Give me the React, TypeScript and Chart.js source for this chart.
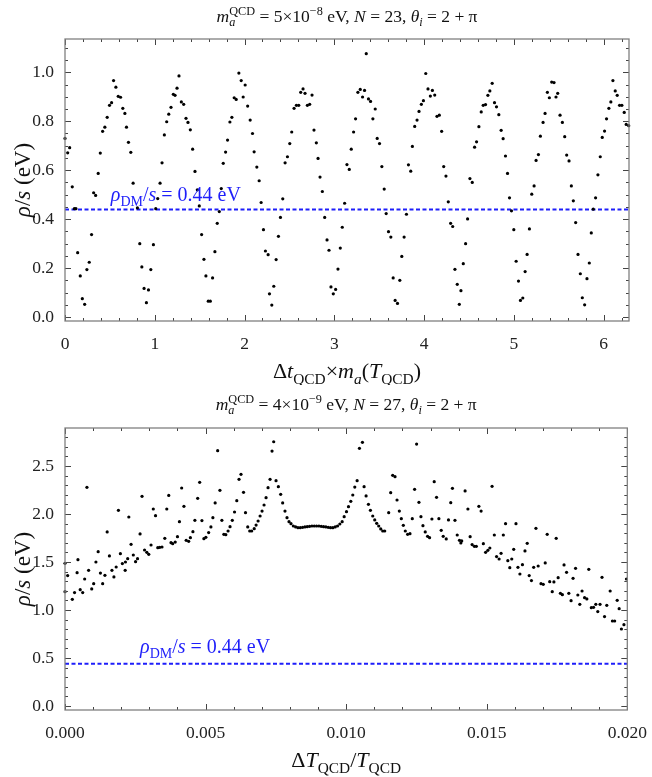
import React, { useEffect, useRef } from 'react';
import { Chart, registerables } from 'chart.js';
Chart.register(...registerables);

const FAM = '"Liberation Serif", "Times New Roman", "DejaVu Serif", serif';

// ---------- data: top panel (x = Δt·m_a, y = ρ/s in eV) ----------
const topPointsA: number[][] = [
  [0,0.730],[0.030,0.671],[0.052,0.692],[0.081,0.532],[0.104,0.443],[0.122,0.443],[0.141,0.263],[0.170,0.168],[0.193,0.075],[0.219,0.052],
  [0.244,0.194],[0.270,0.224],[0.296,0.337],[0.319,0.508],[0.341,0.497],[0.370,0.587],[0.393,0.670],[0.419,0.759],[0.444,0.776],[0.470,0.816],
  [0.496,0.865],[0.519,0.876],[0.541,0.966],[0.567,0.939],[0.593,0.902],[0.619,0.898],[0.644,0.853],[0.667,0.832],[0.685,0.776],[0.707,0.714],
  [0.733,0.673],[0.759,0.547],[0.807,0.446],[0.833,0.300],[0.856,0.205],[0.881,0.117],[0.907,0.059],[0.930,0.111],[0.956,0.194],[0.985,0.296],
  [1.011,0.443],[1.033,0.484],[1.059,0.547],[1.081,0.630],[1.107,0.744],[1.133,0.798],[1.156,0.829],[1.181,0.857],[1.207,0.910],[1.226,0.906],
  [1.248,0.935],[1.270,0.985],[1.296,0.879],[1.322,0.869],[1.348,0.812],[1.370,0.795],[1.396,0.765],[1.422,0.686],[1.448,0.595],[1.474,0.520],
  [1.496,0.454],[1.522,0.337],[1.548,0.236],[1.570,0.168],[1.596,0.065],[1.619,0.065],[1.644,0.160],[1.670,0.267],[1.696,0.383],[1.719,0.431],
  [1.741,0.525],[1.763,0.628],[1.789,0.674],[1.811,0.723],[1.837,0.797],[1.859,0.816],[1.885,0.896],[1.907,0.889],[1.937,0.997],[1.963,0.966],
  [1.985,0.899],[2.007,0.948],[2.035,0.862],[2.063,0.805],[2.089,0.750],[2.107,0.675],
];
const topPointsB: number[][] = [
  [2.137,0.613],[2.163,0.557],[2.185,0.468],[2.211,0.357],[2.233,0.270],[2.263,0.255],[2.278,0.095],[2.304,0.049],[2.326,0.126],[2.352,0.235],
  [2.378,0.330],[2.400,0.407],[2.426,0.483],[2.452,0.630],[2.478,0.655],[2.504,0.709],[2.526,0.756],[2.552,0.853],[2.578,0.865],[2.604,0.865],
  [2.626,0.918],[2.652,0.932],[2.674,0.914],[2.700,0.865],[2.726,0.869],[2.752,0.907],[2.774,0.764],[2.800,0.712],[2.819,0.648],[2.841,0.572],
  [2.867,0.513],[2.893,0.407],[2.919,0.315],[2.941,0.273],[2.963,0.123],[2.989,0.095],[3.015,0.113],[3.041,0.196],[3.067,0.282],[3.089,0.367],
  [3.115,0.465],[3.141,0.623],[3.167,0.603],[3.189,0.686],[3.215,0.756],[3.237,0.810],[3.263,0.918],[3.289,0.930],[3.315,0.899],[3.337,0.926],
  [3.356,1.076],[3.381,0.891],[3.404,0.881],[3.430,0.810],[3.456,0.850],[3.478,0.730],[3.504,0.709],[3.530,0.615],[3.556,0.523],[3.578,0.423],
  [3.604,0.349],[3.630,0.327],[3.656,0.160],[3.678,0.068],[3.704,0.056],[3.730,0.150],[3.752,0.248],[3.778,0.327],[3.804,0.420],[3.826,0.622],
  [3.852,0.596],[3.870,0.697],[3.896,0.779],[3.922,0.805],[3.944,0.840],[3.970,0.869],[3.993,0.884],[4.019,0.995],[4.044,0.932],[4.070,0.903],
  [4.093,0.926],[4.119,0.907],[4.144,0.820],[4.170,0.825],[4.196,0.759],[4.219,0.615],
];
const topPointsC: number[][] = [
  [4.244,0.576],[4.270,0.471],[4.296,0.383],[4.319,0.370],[4.344,0.195],[4.370,0.134],[4.393,0.052],[4.411,0.108],[4.437,0.218],[4.463,0.300],
  [4.485,0.401],[4.511,0.566],[4.537,0.550],[4.563,0.694],[4.585,0.716],[4.611,0.778],[4.637,0.838],[4.659,0.865],[4.685,0.868],[4.711,0.906],
  [4.733,0.924],[4.759,0.955],[4.785,0.876],[4.807,0.859],[4.833,0.827],[4.859,0.763],[4.881,0.729],[4.907,0.658],[4.930,0.587],[4.952,0.487],
  [4.974,0.434],[5.000,0.357],[5.026,0.228],[5.052,0.147],[5.074,0.068],[5.100,0.078],[5.126,0.186],[5.148,0.256],[5.174,0.360],[5.200,0.502],
  [5.226,0.536],[5.248,0.640],[5.274,0.664],[5.296,0.739],[5.326,0.795],[5.348,0.832],[5.374,0.918],[5.396,0.896],[5.422,0.960],[5.448,0.958],
  [5.470,0.899],[5.489,0.914],[5.515,0.825],[5.541,0.795],[5.567,0.737],[5.589,0.662],[5.615,0.638],[5.641,0.536],[5.663,0.475],[5.689,0.386],
  [5.715,0.256],[5.741,0.177],[5.763,0.079],[5.789,0.050],[5.815,0.157],[5.841,0.221],[5.863,0.344],[5.885,0.441],[5.911,0.487],[5.937,0.581],
  [5.963,0.655],[5.985,0.734],[6.011,0.760],[6.033,0.810],[6.059,0.853],[6.081,0.879],[6.104,0.966],[6.130,0.924],[6.152,0.906],[6.178,0.865],
  [6.204,0.865],[6.230,0.836],[6.252,0.787],[6.280,0.782],
];

// ---------- data: bottom panel (x = ΔT/T, y = ρ/s in eV) ----------
const bottomPointsA: number[][] = [
  [0,1.486],[0,1.191],[0.000095,1.358],[0.00026,1.111],[0.00034,1.181],[0.00043,1.389],[0.00046,1.524],[0.00054,1.212],[0.00063,1.181],[0.00070,1.323],
  [0.00078,2.278],[0.00084,1.413],[0.00095,1.219],[0.00102,1.274],[0.00110,1.500],[0.00118,1.608],[0.00126,1.385],[0.00134,1.274],[0.00142,1.361],[0.00150,1.813],
  [0.00158,1.563],[0.00167,1.413],[0.00174,1.344],[0.00182,1.448],[0.00190,2.038],[0.00197,1.587],[0.00204,1.483],[0.00214,1.413],[0.00215,1.500],[0.00223,1.535],
  [0.00227,1.969],[0.00235,1.684],[0.00243,1.573],[0.00251,1.503],[0.00258,1.535],[0.00267,1.792],[0.00274,2.184],[0.00283,1.625],[0.00291,1.601],[0.00298,1.580],
  [0.00306,1.677],[0.00314,2.052],[0.00322,1.983],[0.00330,1.649],[0.00337,1.653],[0.00345,1.656],[0.00355,1.747],[0.00362,2.052],[0.00369,2.194],[0.00377,1.701],
  [0.00383,1.691],[0.00392,1.708],[0.00400,1.764],[0.00407,1.920],[0.00415,2.271],[0.00423,2.080],[0.00431,1.726],[0.00440,1.715],[0.00446,1.753],[0.00455,1.816],
  [0.00462,1.934],[0.00472,2.163],[0.00479,2.330],[0.00487,1.931],[0.00494,1.743],[0.00501,1.757],[0.00511,1.806],[0.00519,1.865],[0.00526,1.962],[0.00534,2.115],
  [0.00543,2.660],[0.00551,2.247],[0.00558,1.934],[0.00565,1.788],[0.00572,1.785],[0.00580,1.823],[0.00587,1.868],[0.00595,1.934],[0.00603,2.021],[0.00611,2.139],
  [0.00619,2.361],[0.00626,2.413],[0.00635,2.226],[0.00642,2.014],[0.00650,1.865],[0.00657,1.823],[0.00664,1.823],[0.00673,1.847],
];
const bottomPointsB: number[][] = [
  [0.006797,1.885],[0.006868,1.927],[0.006939,1.979],[0.007009,2.031],[0.007080,2.094],[0.007151,2.170],[0.007222,2.274],[0.007293,2.361],[0.007364,2.656],[0.007423,2.753],
  [0.007506,2.347],[0.007589,2.285],[0.007671,2.205],[0.007742,2.115],[0.007825,2.031],[0.007896,1.962],[0.007967,1.920],[0.008038,1.899],[0.008121,1.875],[0.008203,1.865],
  [0.008286,1.858],[0.008369,1.858],[0.008452,1.861],[0.008534,1.865],[0.008617,1.868],[0.008700,1.872],[0.008783,1.875],[0.008865,1.875],[0.008948,1.875],[0.009031,1.875],
  [0.009113,1.872],[0.009196,1.868],[0.009279,1.865],[0.009362,1.861],[0.009444,1.858],[0.009527,1.858],[0.009610,1.865],[0.009693,1.875],[0.009775,1.896],[0.009858,1.920],
  [0.009929,1.972],[0.010012,2.024],[0.010083,2.076],[0.010165,2.132],[0.010236,2.198],[0.010307,2.281],[0.010390,2.347],[0.010473,2.684],[0.010579,2.747],[0.010638,2.285],
  [0.010709,2.188],[0.010792,2.101],[0.010863,2.038],[0.010946,1.979],[0.011017,1.938],[0.011087,1.903],[0.011158,1.875],[0.011229,1.844],[0.011300,1.823],[0.011371,1.823],
  [0.011513,2.014],[0.011584,2.222],[0.011655,2.403],[0.011738,2.389],[0.011809,2.146],[0.011891,2.031],[0.011962,1.951],[0.012033,1.882],[0.012104,1.823],[0.012187,1.788],
  [0.012270,1.795],[0.012352,1.951],[0.012435,2.257],[0.012506,2.729],[0.012589,2.122],[0.012660,1.972],[0.012731,1.878],[0.012813,1.813],[0.012896,1.767],[0.012967,1.753],
  [0.013050,1.948],[0.013132,2.337],[0.013215,2.174],[0.013298,1.951],[0.013381,1.830],[0.013452,1.767],
];
const bottomPointsC: number[][] = [
  [0.01356,1.740],[0.01364,1.938],[0.01372,2.118],[0.01378,2.267],[0.01387,1.934],[0.01395,1.781],[0.01403,1.726],[0.01408,1.698],[0.01411,1.719],[0.01423,2.240],
  [0.01433,2.052],[0.01441,1.764],[0.01448,1.681],[0.01456,1.663],[0.01463,1.663],[0.01472,2.080],[0.01480,2.031],[0.01488,1.691],[0.01496,1.601],[0.01504,1.622],
  [0.01511,1.646],[0.01519,2.288],[0.01527,1.781],[0.01535,1.556],[0.01544,1.531],[0.01551,1.590],[0.01559,1.781],[0.01567,1.899],[0.01575,1.514],[0.01582,1.441],
  [0.01589,1.531],[0.01596,1.632],[0.01604,1.899],[0.01611,1.444],[0.01618,1.375],[0.01627,1.472],[0.01636,1.615],[0.01644,1.694],[0.01651,1.358],[0.01659,1.306],
  [0.01667,1.444],[0.01675,1.851],[0.01683,1.458],[0.01693,1.274],[0.01701,1.267],[0.01708,1.490],[0.01715,1.788],[0.01724,1.295],[0.01733,1.191],[0.01739,1.292],
  [0.01747,1.747],[0.01754,1.337],[0.01762,1.174],[0.01769,1.160],[0.01775,1.469],[0.01784,1.392],[0.01792,1.174],[0.01800,1.097],[0.01807,1.330],[0.01816,1.434],
  [0.01824,1.156],[0.01831,1.059],[0.01839,1.198],[0.01848,1.128],[0.01856,1.115],[0.01863,1.424],[0.01872,1.024],[0.01880,1.028],[0.01888,1.059],[0.01895,0.983],
  [0.01903,1.059],[0.01910,1.340],[0.01919,0.931],[0.01927,1.049],[0.01939,1.198],[0.01947,0.885],[0.01955,0.885],[0.01964,1.101],[0.01971,1.014],[0.01979,0.802],
  [0.01988,0.847],[0.01997,1.323],
];

const DM_LEVEL = 0.44;
const topXTicks = [0, 1, 2, 3, 4, 5, 6];
const topYTicks = [0, 0.2, 0.4, 0.6, 0.8, 1.0];
const bottomXTicks = [0, 0.005, 0.01, 0.015, 0.02];
const bottomYTicks = [0, 0.5, 1.0, 1.5, 2.0, 2.5];

// ---------- rich text helper ----------
type Seg = { t: string; i?: boolean; v?: number; st?: boolean };

function drawRich(ctx: CanvasRenderingContext2D, segs: Seg[], x: number, y: number, size: number, color: string, align: 'left' | 'center') {
  const items = segs.map((s) => {
    const fs = s.v ? size * 0.7 : size;
    ctx.font = `${s.i ? 'italic ' : ''}${fs}px ${FAM}`;
    return { ...s, fs, w: ctx.measureText(s.t).width };
  });
  const placed: { s: any; x: number }[] = [];
  let cx = 0;
  for (let k = 0; k < items.length; k++) {
    const it = items[k];
    if (it.st && k + 1 < items.length) {
      const nx = items[k + 1];
      placed.push({ s: it, x: cx });
      placed.push({ s: nx, x: cx });
      cx += Math.max(it.w, nx.w);
      k++;
    } else {
      placed.push({ s: it, x: cx });
      cx += it.w;
    }
  }
  const x0 = align === 'center' ? x - cx / 2 : x;
  ctx.save();
  ctx.fillStyle = color;
  ctx.textBaseline = 'alphabetic';
  ctx.textAlign = 'left';
  for (const p of placed) {
    const s = p.s;
    ctx.font = `${s.i ? 'italic ' : ''}${s.fs}px ${FAM}`;
    const dy = s.v === 1 ? -size * 0.4 : s.v === -1 ? size * 0.25 : 0;
    ctx.fillText(s.t, x0 + p.x, y + dy);
  }
  ctx.restore();
}

const BLUE = 'rgb(30,30,250)';

const dmLabel: Seg[] = [
  { t: 'ρ', i: true }, { t: 'DM', v: -1 }, { t: '/' }, { t: 's', i: true }, { t: ' = 0.44 eV' },
];
const yTitle: Seg[] = [
  { t: 'ρ', i: true }, { t: '/' }, { t: 's', i: true }, { t: ' (eV)' },
];

type PanelCfg = {
  height: number;
  top: number;
  padTop: number;
  padBottom: number;
  points: number[][];
  xMin: number; xMax: number; yMin: number; yMax: number;
  xTicks: number[]; yTicks: number[];
  xMinorStep: number; yMinorStep: number;
  xFmt: (v: number) => string; yFmt: (v: number) => string;
  title: Seg[]; titleY: number;
  xTitle: Seg[]; xTitleY: number;
  labelX: number; labelY: number;
};

function minorList(min: number, max: number, step: number) {
  const out: number[] = [];
  const start = Math.ceil(min / step - 1e-9);
  for (let k = start; k * step <= max + 1e-12; k++) out.push(k * step);
  return out;
}

function Panel({ cfg }: { cfg: PanelCfg }) {
  const ref = useRef<HTMLCanvasElement>(null);
  useEffect(() => {
    const canvas = ref.current!;
    const plugin = {
      id: 'mframe',
      afterDraw(chart: any) {
        const ctx: CanvasRenderingContext2D = chart.ctx;
        const { left, right, top, bottom } = chart.chartArea;
        const xs = chart.scales.x;
        const ys = chart.scales.y;
        ctx.save();
        ctx.strokeStyle = '#444';
        ctx.lineWidth = 1;
        const xt = (vals: number[], len: number) => {
          for (const v of vals) {
            const px = Math.round(xs.getPixelForValue(v)) + 0.5;
            if (px < left - 0.6 || px > right + 0.6) continue;
            ctx.beginPath();
            ctx.moveTo(px, bottom); ctx.lineTo(px, bottom - len);
            ctx.moveTo(px, top); ctx.lineTo(px, top + len);
            ctx.stroke();
          }
        };
        const yt = (vals: number[], len: number) => {
          for (const v of vals) {
            const py = Math.round(ys.getPixelForValue(v)) + 0.5;
            if (py < top - 0.6 || py > bottom + 0.6) continue;
            ctx.beginPath();
            ctx.moveTo(left, py); ctx.lineTo(left + len, py);
            ctx.moveTo(right, py); ctx.lineTo(right - len, py);
            ctx.stroke();
          }
        };
        xt(minorList(cfg.xMin, cfg.xMax, cfg.xMinorStep), 3);
        yt(minorList(cfg.yMin, cfg.yMax, cfg.yMinorStep), 3);
        xt(cfg.xTicks, 6);
        yt(cfg.yTicks, 6);
        ctx.strokeStyle = '#808080';
        ctx.lineWidth = 1.3;
        ctx.strokeRect(left, top, right - left, bottom - top);
        ctx.restore();
        drawRich(ctx, dmLabel, xs.getPixelForValue(cfg.labelX), ys.getPixelForValue(cfg.labelY), 20, BLUE, 'left');
        const cxp = (left + right) / 2;
        drawRich(ctx, cfg.title, cxp, cfg.titleY, 17.5, '#111', 'center');
        drawRich(ctx, cfg.xTitle, cxp, cfg.xTitleY, 22, '#111', 'center');
        ctx.save();
        ctx.translate(30, (top + bottom) / 2);
        ctx.rotate(-Math.PI / 2);
        drawRich(ctx, yTitle, 0, 0, 23, '#111', 'center');
        ctx.restore();
      },
    };
    const chart = new Chart(canvas, {
      type: 'scatter',
      data: {
        datasets: [
          {
            data: cfg.points.map((p) => ({ x: p[0], y: p[1] })),
            pointRadius: 1.6,
            pointBackgroundColor: '#000',
            pointBorderWidth: 0,
            showLine: false,
            order: 0,
            clip: 4,
          } as any,
          {
            data: [{ x: cfg.xMin, y: DM_LEVEL }, { x: cfg.xMax, y: DM_LEVEL }],
            showLine: true,
            pointRadius: 0,
            borderColor: BLUE,
            borderWidth: 2,
            borderDash: [4, 2.5],
            order: 1,
          } as any,
        ],
      },
      options: {
        responsive: false,
        animation: false,
        devicePixelRatio: 1,
        events: [],
        layout: { padding: { left: 0, right: 23, top: cfg.padTop, bottom: cfg.padBottom } },
        plugins: { legend: { display: false }, tooltip: { enabled: false }, title: { display: false } },
        scales: {
          x: {
            type: 'linear',
            min: cfg.xMin,
            max: cfg.xMax,
            grid: { display: false },
            border: { display: false },
            afterBuildTicks: (s: any) => { s.ticks = cfg.xTicks.map((v) => ({ value: v })); },
            afterFit: (s: any) => { s.height = 30; },
            ticks: {
              autoSkip: false,
              maxRotation: 0,
              padding: 5,
              color: '#222',
              font: { family: FAM, size: 17.5 },
              callback: (v: any) => cfg.xFmt(Number(v)),
            },
          },
          y: {
            type: 'linear',
            min: cfg.yMin,
            max: cfg.yMax,
            grid: { display: false },
            border: { display: false },
            afterBuildTicks: (s: any) => { s.ticks = cfg.yTicks.map((v) => ({ value: v })); },
            afterFit: (s: any) => { s.width = 65; },
            ticks: {
              padding: 3,
              color: '#222',
              font: { family: FAM, size: 17.5 },
              callback: (v: any) => cfg.yFmt(Number(v)),
            },
          },
        },
      },
      plugins: [plugin],
    } as any);
    return () => chart.destroy();
  }, [cfg]);
  return (
    <canvas
      ref={ref}
      width={652}
      height={cfg.height}
      style={{ position: 'absolute', left: 0, top: cfg.top, width: 652, height: cfg.height }}
    />
  );
}

const topCfg: PanelCfg = {
  height: 385,
  top: 0,
  padTop: 39,
  padBottom: 385 - 321 - 30,
  points: [...topPointsA, ...topPointsB, ...topPointsC],
  xMin: 0, xMax: 2 * Math.PI, yMin: -0.016, yMax: 1.136,
  xTicks: topXTicks, yTicks: topYTicks,
  xMinorStep: 0.2, yMinorStep: 0.05,
  xFmt: (v) => String(Math.round(v)),
  yFmt: (v) => v.toFixed(1),
  title: [
    { t: 'm', i: true }, { t: 'QCD', v: 1, st: true }, { t: 'a', i: true, v: -1 },
    { t: ' = 5×10' }, { t: '−8', v: 1 }, { t: ' eV, ' }, { t: 'N', i: true }, { t: ' = 23, ' },
    { t: 'θ', i: true }, { t: 'i', i: true, v: -1 }, { t: ' = 2 + π' },
  ],
  titleY: 22,
  xTitle: [
    { t: 'Δ' }, { t: 't', i: true }, { t: 'QCD', v: -1 }, { t: '×' }, { t: 'm', i: true }, { t: 'a', i: true, v: -1 },
    { t: '(' }, { t: 'T', i: true }, { t: 'QCD', v: -1 }, { t: ')' },
  ],
  xTitleY: 378,
  labelX: 0.51,
  labelY: 0.473,
};

const bottomCfg: PanelCfg = {
  height: 392,
  top: 385,
  padTop: 43,
  padBottom: 392 - 325 - 30,
  points: [...bottomPointsA, ...bottomPointsB, ...bottomPointsC],
  xMin: 0, xMax: 0.02, yMin: -0.042, yMax: 2.896,
  xTicks: bottomXTicks, yTicks: bottomYTicks,
  xMinorStep: 0.001, yMinorStep: 0.1,
  xFmt: (v) => v.toFixed(3),
  yFmt: (v) => v.toFixed(1),
  title: [
    { t: 'm', i: true }, { t: 'QCD', v: 1, st: true }, { t: 'a', i: true, v: -1 },
    { t: ' = 4×10' }, { t: '−9', v: 1 }, { t: ' eV, ' }, { t: 'N', i: true }, { t: ' = 27, ' },
    { t: 'θ', i: true }, { t: 'i', i: true, v: -1 }, { t: ' = 2 + π' },
  ],
  titleY: 25,
  xTitle: [
    { t: 'Δ' }, { t: 'T', i: true }, { t: 'QCD', v: -1 }, { t: '/' }, { t: 'T', i: true }, { t: 'QCD', v: -1 },
  ],
  xTitleY: 382,
  labelX: 0.00267,
  labelY: 0.552,
};

export default function App() {
  return (
    <div style={{ position: 'absolute', left: 0, top: 0, width: 652, height: 777, background: '#fff' }}>
      <Panel cfg={topCfg} />
      <Panel cfg={bottomCfg} />
    </div>
  );
}
